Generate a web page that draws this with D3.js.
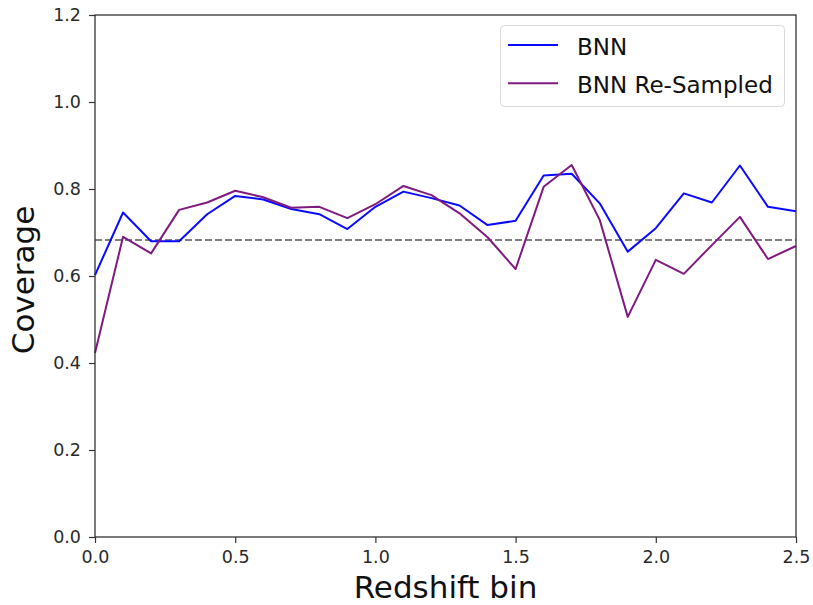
<!DOCTYPE html>
<html>
<head>
<meta charset="utf-8">
<script src="https://cdn.jsdelivr.net/npm/d3@7"></script>
<style>
  html, body { margin: 0; padding: 0; background: #fff; }
  svg { display: block; font-family: "DejaVu Sans", sans-serif; }
</style>
</head>
<body>
<svg id="chart" width="813" height="605"></svg>
<script>
// Redshift bins (0.0 … 2.5 in steps of 0.1)
const bins = [0.0, 0.1, 0.2, 0.3, 0.4, 0.5, 0.6, 0.7, 0.8, 0.9, 1.0, 1.1, 1.2,
              1.3, 1.4, 1.5, 1.6, 1.7, 1.8, 1.9, 2.0, 2.1, 2.2, 2.3, 2.4, 2.5];

const bnnCoverage = [0.602, 0.746, 0.680, 0.680, 0.742, 0.784, 0.776, 0.754, 0.742, 0.708,
                     0.759, 0.794, 0.779, 0.762, 0.717, 0.727, 0.831, 0.835, 0.767, 0.656,
                     0.710, 0.790, 0.769, 0.854, 0.759, 0.749];

const resampledCoverage = [0.423, 0.690, 0.652, 0.752, 0.769, 0.796, 0.781, 0.757, 0.759, 0.733,
                           0.765, 0.807, 0.786, 0.744, 0.689, 0.616, 0.805, 0.855, 0.729, 0.506,
                           0.637, 0.605, 0.671, 0.736, 0.639, 0.669];

// 1-sigma nominal coverage
const nominal = 0.683;

const xTicks = [0.0, 0.5, 1.0, 1.5, 2.0, 2.5];
const yTicks = [0.0, 0.2, 0.4, 0.6, 0.8, 1.0, 1.2];

const seriesNames = ["BNN", "BNN Re-Sampled"];
const seriesColors = ["#0a0aff", "#7f1a80"];

const svg = d3.select("#chart");
const margin = { left: 95, right: 17, top: 15, bottom: 68 };
const W = 813, H = 605;

const x = d3.scaleLinear().domain([0, 2.5]).range([margin.left, W - margin.right]);
const y = d3.scaleLinear().domain([0, 1.2]).range([H - margin.bottom, margin.top]);

const axisColor = "#333";

// Reference level
svg.append("line")
  .attr("x1", x(0)).attr("x2", x(2.5))
  .attr("y1", y(nominal)).attr("y2", y(nominal))
  .attr("stroke", "#808080")
  .attr("stroke-width", 2)
  .attr("stroke-dasharray", "7,3");

// Series lines
const line = d3.line().x((d, i) => x(bins[i])).y(d => y(d));
[bnnCoverage, resampledCoverage].forEach((vals, k) => {
  svg.append("path")
    .datum(vals)
    .attr("fill", "none")
    .attr("stroke", seriesColors[k])
    .attr("stroke-width", 2)
    .attr("stroke-linejoin", "round")
    .attr("d", line);
});

// Axes
const xAxis = svg.append("g")
  .attr("transform", `translate(0,${y(0)})`)
  .call(d3.axisBottom(x).tickValues(xTicks).tickFormat(d3.format(".1f")).tickSize(6).tickPadding(8));
const yAxis = svg.append("g")
  .attr("transform", `translate(${x(0)},0)`)
  .call(d3.axisLeft(y).tickValues(yTicks).tickFormat(d3.format(".1f")).tickSize(6).tickPadding(8));

[xAxis, yAxis].forEach(g => {
  g.select(".domain").remove();
  g.selectAll(".tick line").attr("stroke", axisColor).attr("stroke-width", 1.2);
  g.selectAll(".tick text")
    .attr("fill", "#2a2a2a")
    .style("font-size", "17.5px")
    .style("font-family", "'DejaVu Sans', sans-serif");
});

// Frame
svg.append("rect")
  .attr("x", x(0)).attr("y", y(1.2))
  .attr("width", x(2.5) - x(0)).attr("height", y(0) - y(1.2))
  .attr("fill", "none")
  .attr("stroke", axisColor)
  .attr("stroke-width", 1.3);

// Axis titles
svg.append("text")
  .attr("x", (x(0) + x(2.5)) / 2)
  .attr("y", 598)
  .attr("text-anchor", "middle")
  .attr("fill", "#111")
  .style("font-size", "31px")
  .text("Redshift bin");

svg.append("text")
  .attr("transform", `translate(34,280) rotate(-90)`)
  .attr("text-anchor", "middle")
  .attr("fill", "#111")
  .style("font-size", "31px")
  .text("Coverage");

// Legend
const lg = svg.append("g");
lg.append("rect")
  .attr("x", 500.5).attr("y", 25.5)
  .attr("width", 284).attr("height", 81)
  .attr("rx", 4)
  .attr("fill", "#fff")
  .attr("stroke", "#d9d9d9")
  .attr("stroke-width", 1);
seriesNames.forEach((name, k) => {
  const cy = 45 + k * 38.3;
  lg.append("line")
    .attr("x1", 508).attr("x2", 558)
    .attr("y1", cy).attr("y2", cy)
    .attr("stroke", seriesColors[k])
    .attr("stroke-width", 2);
  lg.append("text")
    .attr("x", 577).attr("y", cy + 10)
    .attr("fill", "#111")
    .style("font-size", "23px")
    .text(name);
});
</script>
</body>
</html>
